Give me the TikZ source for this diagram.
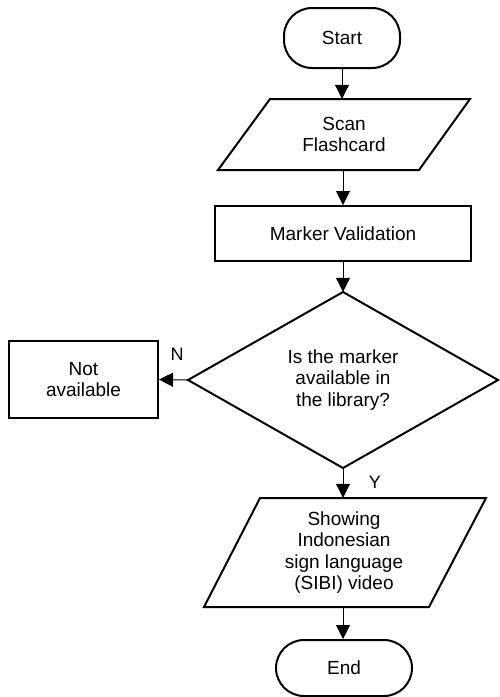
\documentclass[tikz,border=0pt]{standalone}
\usepackage{fontspec}
\setmainfont{Liberation Sans}
\usetikzlibrary{arrows.meta}
\begin{document}
\begin{tikzpicture}[x=1pt,y=-1pt,
  every node/.style={font=\fontsize{19}{21.5}\selectfont, align=center, inner sep=0pt},
  shapeline/.style={draw=black, line width=2pt, line join=miter},
  terminal/.style={shapeline, rounded corners=28pt},
  procbox/.style={shapeline},
  textonly/.style={},
  conn/.style={draw=black, line width=1pt, -{Triangle[length=14pt,width=14pt]}},
  lbl/.style={font=\fontsize{18}{20}\selectfont}
]
\useasboundingbox (0,0) rectangle (499,697);

% Start
\node[terminal, minimum width=116pt, minimum height=60pt] (start) at (342,38) {Start};

% Scan Flashcard (parallelogram)
\draw[shapeline] (270,99) -- (470,99) -- (419,170) -- (218,170) -- cycle;
\node[textonly, minimum width=200pt, minimum height=71pt] (scan) at (344,134.5) {Scan\\Flashcard};

% Marker Validation
\node[procbox, minimum width=256pt, minimum height=55pt] (mv) at (343,233.5) {Marker Validation};

% Decision
\draw[shapeline] (343,292) -- (498,380) -- (343,468) -- (188,380) -- cycle;
\node[textonly, minimum width=310pt, minimum height=176pt] (dec) at (343,380) {Is the marker\\available in\\the library?};

% Not available
\node[procbox, minimum width=149pt, minimum height=77pt] (na) at (83.5,379.5) {Not\\available};

% Showing video (parallelogram)
\draw[shapeline] (260,498) -- (486,498) -- (429,607) -- (204,607) -- cycle;
\node[textonly, minimum width=220pt, minimum height=109pt] (show) at (344,552.5) {Showing\\Indonesian\\sign language\\(SIBI) video};

% End
\node[terminal, minimum width=136pt, minimum height=56pt] (end) at (344,668) {End};

% Connectors
\draw[conn] (start.south) -- (start.south |- scan.north);
\draw[conn] (scan.south -| mv.north) -- (mv.north);
\draw[conn] (mv.south) -- (mv.south |- dec.north);
\draw[conn] (dec.west) -- (na.east);
\draw[conn] (dec.south) -- (dec.south |- show.north);
\draw[conn] (dec.south |- show.south) -- (dec.south |- end.north);

% Labels
\node[lbl] (nlabel) at (177,354) {N};
\node[lbl] (ylabel) at (375,482) {Y};
\end{tikzpicture}
\end{document}
